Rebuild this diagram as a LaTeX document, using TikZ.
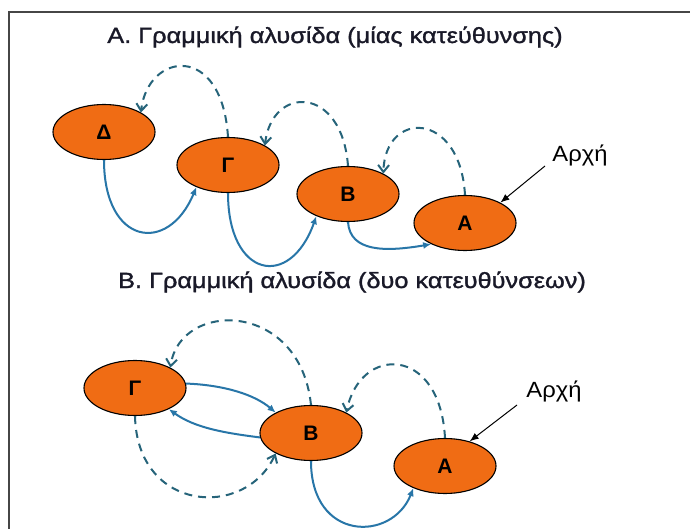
\documentclass[tikz,border=0pt]{standalone}
\usepackage{fontspec}
\setmainfont{Liberation Sans}
\newfontfamily\widefont[FakeStretch=1.15,FakeBold=1.3]{Liberation Sans}
\newfontfamily\startfont[FakeStretch=1.08]{Liberation Sans}
\usetikzlibrary{shapes.geometric,arrows.meta}
\definecolor{nodeorange}{RGB}{240,108,20}
\definecolor{solidblue}{RGB}{40,118,168}
\definecolor{dashblue}{RGB}{38,100,122}
\definecolor{framegray}{RGB}{70,70,70}
\definecolor{titlecol}{RGB}{25,25,40}
\tikzset{
  chain/.style={ellipse,draw=black,line width=1.1pt,fill=nodeorange,minimum width=102pt,minimum height=55pt,inner sep=0pt,font=\fontsize{21}{21}\selectfont\bfseries},
  fwd/.style={draw=solidblue,line width=2pt,-{Latex[length=8pt,width=7pt]}},
  back/.style={draw=dashblue,line width=2pt,dash pattern=on 8pt off 6pt,-{Straight Barb[length=7pt,width=11pt]}},
  startarrow/.style={draw=black,line width=1pt,-{Latex[length=9pt,width=7pt]}},
  titletext/.style={font=\widefont\fontsize{22}{22}\selectfont,anchor=base,text=titlecol},
  starttext/.style={font=\startfont\fontsize{22}{22}\selectfont}
}
\begin{document}
\begin{tikzpicture}[x=1pt,y=-1pt]
\useasboundingbox (0,0) rectangle (690,529);
\fill[white] (0,0) rectangle (690,529);
\draw[framegray,line width=2pt] (8.5,529) -- (8.5,12.5) -- (690,12.5);

% ---- Section A
\node[titletext] (tA) at (335,43) {Α. Γραμμική αλυσίδα (μίας κατεύθυνσης)};
\node[chain] (D) at (104,132) {Δ};
\node[chain] (G) at (228,165) {Γ};
\node[chain] (B) at (348,194) {Β};
\node[chain] (A) at (465,223) {Α};
\node[starttext] (sA) at (580,155) {Αρχή};
\coordinate (sAc) at (545,166);

\draw[fwd] (D.south) .. controls (104,245) and (168,255) .. (G.215);
\draw[fwd] (G.south) .. controls (228,278) and (290,290) .. (B.215);
\draw[fwd] (B.south) .. controls (350,252) and (385,252) .. (A.212);
\draw[back] (G.north) .. controls (222,42) and (148,52) .. (D.28);
\draw[back] (B.north) .. controls (342,85) and (272,85) .. (G.28);
\draw[back] (A.north) .. controls (460,110) and (385,110) .. (B.30);
\draw[startarrow] (sAc) -- (A.30);

% ---- Section B
\node[titletext] (tB) at (352,288) {Β. Γραμμική αλυσίδα (δυο κατευθύνσεων)};
\node[chain] (G2) at (135,388) {Γ};
\node[chain] (B2) at (311,433) {Β};
\node[chain] (A2) at (445,466) {Α};
\node[starttext] (sB) at (554,391) {Αρχή};
\coordinate (sBc) at (517,405);

\draw[fwd] (G2.5) .. controls (225,385) and (255,395) .. (B2.150);
\draw[fwd] (B2.185) .. controls (225,433) and (195,428) .. (G2.-32);
\draw[fwd] (B2.south) .. controls (311,542) and (392,542) .. (A2.215);
\draw[back] (G2.south) .. controls (137,512) and (245,520) .. (B2.210);
\draw[back] (B2.north) .. controls (300,300) and (180,300) .. (G2.30);
\draw[back] (A2.north) .. controls (440,345) and (360,345) .. (B2.30);
\draw[startarrow] (sBc) -- (A2.45);
\end{tikzpicture}
\end{document}
